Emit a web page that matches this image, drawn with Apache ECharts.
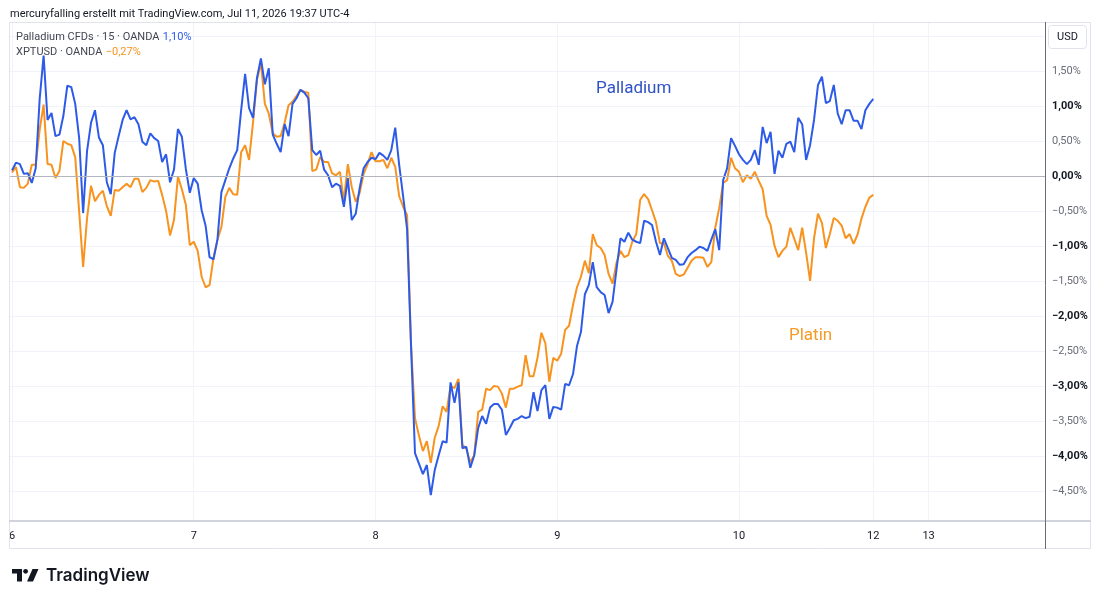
<!DOCTYPE html>
<html>
<head>
<meta charset="utf-8">
<script src="https://cdn.jsdelivr.net/npm/echarts@6/dist/echarts.min.js"></script>
<style>
html,body{margin:0;padding:0;background:#ffffff;}
#chart{width:1100px;height:602px;}
</style>
</head>
<body>
<div id="chart"></div>
<script>
// ---- data (percent change vs. start, one sample per 30 min of trading time) ----
const sampleStepHours = 0.5;

const palladium = [
  0.08, 0.19, 0.17, 0.03, 0.04, -0.10, 0.11, 1.10, 1.72, 0.80,
  0.90, 0.57, 0.59, 0.86, 1.29, 1.27, 1.03, 0.54, -0.53, 0.36,
  0.76, 0.94, 0.55, 0.44, -0.09, -0.26, 0.33, 0.57, 0.80, 0.94,
  0.81, 0.84, 0.74, 0.49, 0.44, 0.61, 0.54, 0.50, 0.20, 0.31,
  -0.09, 0.09, 0.67, 0.56, 0.10, -0.24, -0.03, -0.11, -0.49, -0.71,
  -1.16, -1.19, -0.91, -0.23, -0.06, 0.11, 0.25, 0.37, 0.94, 1.46,
  0.97, 0.83, 1.40, 1.68, 1.31, 1.54, 0.59, 0.46, 0.34, 0.74,
  0.57, 1.03, 1.11, 1.23, 1.19, 1.11, 0.37, 0.30, 0.36, 0.09,
  0.01, -0.16, -0.11, -0.14, -0.44, -0.03, -0.63, -0.54, -0.17, 0.11,
  0.20, 0.26, 0.24, 0.33, 0.29, 0.23, 0.37, 0.69, 0.16, -0.29,
  -0.76, -2.43, -3.96, -4.11, -4.26, -4.13, -4.56, -4.20, -3.99, -3.79,
  -3.81, -2.95, -3.24, -2.95, -3.89, -3.87, -4.17, -3.99, -3.60, -3.43,
  -3.54, -3.31, -3.26, -3.26, -3.34, -3.70, -3.60, -3.49, -3.47, -3.43,
  -3.46, -3.44, -3.09, -3.36, -3.06, -2.99, -3.47, -3.30, -3.31, -3.34,
  -2.97, -2.99, -2.83, -2.43, -2.23, -1.69, -1.56, -1.23, -1.59, -1.66,
  -1.70, -1.96, -1.80, -1.34, -0.89, -0.94, -0.81, -0.91, -0.94, -0.96,
  -0.64, -0.66, -0.70, -0.94, -1.13, -0.89, -1.03, -1.17, -1.20, -1.27,
  -1.26, -1.16, -1.10, -1.06, -1.01, -1.03, -1.07, -0.91, -0.76, -1.06,
  -0.06, 0.11, 0.54, 0.43, 0.31, 0.23, 0.17, 0.23, 0.37, 0.16,
  0.70, 0.47, 0.63, 0.03, 0.36, 0.26, 0.46, 0.49, 0.34, 0.83,
  0.74, 0.23, 0.44, 0.80, 1.30, 1.42, 1.04, 1.07, 1.30, 0.89,
  0.74, 0.94, 0.94, 0.79, 0.79, 0.67, 0.94, 1.03, 1.10
];

const platin = [
  0.05, 0.13, -0.16, -0.17, -0.11, 0.16, 0.16, 0.66, 1.02, 0.17,
  0.16, -0.03, 0.07, 0.50, 0.46, 0.44, 0.27, -0.51, -1.30, -0.60,
  -0.14, -0.36, -0.27, -0.21, -0.43, -0.57, -0.20, -0.21, -0.16, -0.11,
  -0.16, -0.04, -0.04, -0.23, -0.17, -0.06, -0.08, -0.07, -0.27, -0.50,
  -0.85, -0.63, -0.01, -0.19, -0.41, -0.99, -0.94, -1.07, -1.44, -1.59,
  -1.56, -1.17, -0.91, -0.73, -0.30, -0.17, -0.26, -0.27, 0.34, 0.44,
  0.23, 0.76, 1.37, 1.62, 1.03, 0.89, 0.61, 0.56, 0.57, 0.76,
  1.01, 1.06, 1.14, 1.23, 1.20, 1.19, 0.07, 0.09, 0.27, 0.20,
  0.20, 0.04, 0.01, 0.06, -0.36, 0.17, -0.16, -0.37, -0.24, 0.03,
  0.17, 0.34, 0.21, 0.21, 0.23, 0.11, 0.26, 0.13, -0.29, -0.44,
  -0.56, -2.41, -3.46, -3.71, -3.93, -3.79, -4.10, -3.74, -3.57, -3.29,
  -3.37, -3.00, -3.03, -2.90, -3.84, -3.90, -4.09, -3.99, -3.37, -3.34,
  -3.04, -3.06, -3.00, -3.01, -3.11, -3.31, -3.04, -3.04, -3.01, -2.99,
  -2.56, -2.86, -2.86, -2.60, -2.24, -2.39, -2.94, -2.60, -2.64, -2.54,
  -2.20, -2.14, -1.84, -1.59, -1.44, -1.21, -1.39, -0.83, -0.99, -1.03,
  -1.13, -1.40, -1.54, -1.24, -1.07, -1.16, -1.13, -0.94, -0.83, -0.34,
  -0.26, -0.33, -0.49, -0.66, -0.96, -0.96, -1.14, -1.21, -1.40, -1.43,
  -1.41, -1.31, -1.21, -1.16, -1.16, -1.17, -1.30, -1.23, -0.74, -0.46,
  -0.10, -0.06, 0.26, 0.11, 0.06, -0.09, 0.01, -0.04, 0.06, -0.07,
  -0.19, -0.57, -0.70, -1.00, -1.16, -1.07, -1.01, -0.74, -0.90, -1.06,
  -0.74, -1.10, -1.50, -0.89, -0.54, -0.67, -1.03, -0.83, -0.60, -0.64,
  -0.71, -0.89, -0.83, -0.97, -0.84, -0.61, -0.44, -0.31, -0.27
];

// time-axis ticks (trading hours since start of day 6) and their labels
const dayTickHours  = [0, 23, 46, 69, 92, 109, 116];
const dayTickLabels = ['6', '7', '8', '9', '10', '12', '13'];

// percent scale
const pctGridTicks  = [-4.5, -4, -3.5, -3, -2.5, -2, -1.5, -1, -0.5, 0, 0.5, 1, 1.5, 2];
const pctLabelTicks = [-4.5, -4, -3.5, -3, -2.5, -2, -1.5, -1, -0.5, 0, 0.5, 1, 1.5];

const lastPalladium = '1,10%';
const lastPlatin = '\u22120,27%';

// ---- helpers ----
function fmtPct(v) {
  const s = Math.abs(v).toFixed(2).replace('.', ',');
  return (v < -1e-9 ? '\u2212' : '') + s + '%';
}
function toPairs(arr) {
  return arr.map((v, i) => [i * sampleStepHours, v]);
}

const FONT = 'Roboto, "Noto Sans", sans-serif';
const BLUE = '#2d5be8';
const ORANGE = '#f7931e';

const chart = echarts.init(document.getElementById('chart'), null, {renderer: 'canvas'});

const option = {
  animation: false,
  backgroundColor: '#ffffff',
  textStyle: {fontFamily: FONT},
  grid: {left: 9, top: 22, right: 55, bottom: 81, containLabel: false},
  xAxis: {
    type: 'value',
    min: -0.38,
    max: 130.73,
    position: 'bottom',
    axisLine: {show: false},
    axisTick: {show: false, customValues: dayTickHours},
    axisLabel: {
      customValues: dayTickHours,
      color: '#131722',
      fontSize: 11,
      fontFamily: FONT,
      margin: 10,
      formatter: function (v) {
        const idx = dayTickHours.findIndex(t => Math.abs(t - v) < 1e-6);
        return idx >= 0 ? dayTickLabels[idx] : '';
      }
    },
    splitLine: {show: true, lineStyle: {color: '#f0f3fa', width: 1}}
  },
  yAxis: {
    type: 'value',
    position: 'right',
    min: -4.93,
    max: 2.2,
    axisLine: {show: false},
    axisTick: {show: false, customValues: pctGridTicks},
    axisLabel: {
      customValues: pctLabelTicks,
      margin: 7,
      align: 'left',
      fontSize: 11,
      fontFamily: FONT,
      formatter: function (v) {
        const s = fmtPct(v);
        return Math.abs(v - Math.round(v)) < 1e-9 ? '{b|' + s + '}' : '{n|' + s + '}';
      },
      rich: {
        b: {color: '#131722', fontSize: 11, fontWeight: 'bold', fontFamily: FONT},
        n: {color: '#6a6d78', fontSize: 11, fontFamily: FONT}
      }
    },
    splitLine: {show: true, lineStyle: {color: '#f0f3fa', width: 1}}
  },
  series: [
    {
      name: 'zero',
      type: 'line',
      data: [],
      silent: true,
      z: 1,
      markLine: {
        silent: true,
        symbol: 'none',
        label: {show: false},
        lineStyle: {color: '#b2b5be', width: 1, type: 'solid'},
        data: [{yAxis: 0}]
      }
    },
    {
      name: 'XPTUSD · OANDA',
      type: 'line',
      data: toPairs(platin),
      showSymbol: false,
      symbol: 'none',
      z: 3,
      lineStyle: {color: ORANGE, width: 2},
      itemStyle: {color: ORANGE}
    },
    {
      name: 'Palladium CFDs · 15 · OANDA',
      type: 'line',
      data: toPairs(palladium),
      showSymbol: false,
      symbol: 'none',
      z: 4,
      lineStyle: {color: BLUE, width: 2},
      itemStyle: {color: BLUE}
    }
  ],
  graphic: [
    {type: 'rect', silent: true, z: 50, shape: {x: 9.5, y: 22.5, width: 1081, height: 526},
      style: {fill: null, stroke: '#e0e3eb', lineWidth: 1}},
    {type: 'line', silent: true, z: 51, shape: {x1: 9, y1: 521, x2: 1091, y2: 521},
      style: {stroke: '#d1d4dc', lineWidth: 2}},
    {type: 'line', silent: true, z: 52, shape: {x1: 1045.5, y1: 22, x2: 1045.5, y2: 549},
      style: {stroke: '#6a6d78', lineWidth: 1}},
    {type: 'rect', silent: true, z: 53, shape: {x: 1048.5, y: 25.5, width: 38, height: 23, r: 3},
      style: {fill: '#ffffff', stroke: '#e0e3eb', lineWidth: 1}},
    {type: 'text', silent: true, z: 54, x: 1067.5, y: 37,
      style: {text: 'USD', fill: '#131722', font: '11px ' + FONT, align: 'center', verticalAlign: 'middle'}},
    {type: 'text', silent: true, z: 54, x: 10, y: 14,
      style: {text: 'mercuryfalling erstellt mit TradingView.com, Jul 11, 2026 19:37 UTC-4',
        fill: '#131722', font: '11px ' + FONT, verticalAlign: 'middle'}},
    {type: 'text', silent: true, z: 54, x: 16, y: 37,
      style: {text: '{a|Palladium CFDs · 15 · OANDA} {b|' + lastPalladium + '}',
        verticalAlign: 'middle',
        rich: {a: {fill: '#434651', font: '11px ' + FONT}, b: {fill: BLUE, font: '11px ' + FONT}}}},
    {type: 'text', silent: true, z: 54, x: 16, y: 52,
      style: {text: '{a|XPTUSD · OANDA} {b|' + lastPlatin + '}',
        verticalAlign: 'middle',
        rich: {a: {fill: '#434651', font: '11px ' + FONT}, b: {fill: ORANGE, font: '11px ' + FONT}}}},
    {type: 'text', silent: true, z: 54, x: 596, y: 89,
      style: {text: 'Palladium', fill: '#2f52c6', font: '17px ' + FONT, verticalAlign: 'middle'}},
    {type: 'text', silent: true, z: 54, x: 789, y: 336,
      style: {text: 'Platin', fill: '#f59a26', font: '17px ' + FONT, verticalAlign: 'middle'}},
    {type: 'group', silent: true, z: 54, children: [
      {type: 'rect', shape: {x: 12, y: 569, width: 10, height: 4.5}, style: {fill: '#131722'}},
      {type: 'rect', shape: {x: 17, y: 569, width: 5, height: 12.5}, style: {fill: '#131722'}},
      {type: 'circle', shape: {cx: 25.6, cy: 571.3, r: 2.4}, style: {fill: '#131722'}},
      {type: 'polygon', shape: {points: [[32.5, 569], [38.5, 569], [33, 581.5], [27, 581.5]]}, style: {fill: '#131722'}}
    ]},
    {type: 'text', silent: true, z: 54, x: 46, y: 576,
      style: {text: 'TradingView', fill: '#131722', font: '600 17px Inter, ' + FONT, verticalAlign: 'middle'}}
  ]
};

chart.setOption(option);
</script>
</body>
</html>
